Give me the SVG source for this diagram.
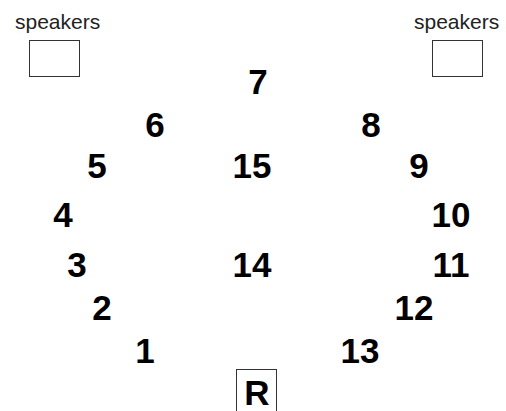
<svg xmlns="http://www.w3.org/2000/svg" width="506" height="411" viewBox="0 0 506 411">
<style>
.spk{font-family:"Liberation Sans",Arial,sans-serif;font-size:21px;fill:#222}
.box{fill:#fff;stroke:#333;stroke-width:1}
.num{font-family:"Liberation Sans",Arial,sans-serif;font-size:35px;font-weight:bold;fill:#000}
</style>
<rect width="506" height="411" fill="#fff"/>
<g id="speakers-left">
<text class="spk" x="15" y="29">speakers</text>
<rect class="box" x="29.5" y="40.5" width="50" height="36"/>
</g>
<g id="speakers-right">
<text class="spk" x="414" y="29">speakers</text>
<rect class="box" x="432.5" y="40.5" width="50" height="36"/>
</g>
<g id="n7"><text class="num" x="258" y="94" text-anchor="middle">7</text></g>
<g id="n6"><text class="num" x="155" y="137" text-anchor="middle">6</text></g>
<g id="n8"><text class="num" x="371" y="137" text-anchor="middle">8</text></g>
<g id="n5"><text class="num" x="97" y="178" text-anchor="middle">5</text></g>
<g id="n15"><text class="num" x="252" y="178" text-anchor="middle">15</text></g>
<g id="n9"><text class="num" x="419" y="178" text-anchor="middle">9</text></g>
<g id="n4"><text class="num" x="63" y="227" text-anchor="middle">4</text></g>
<g id="n10"><text class="num" x="451" y="227" text-anchor="middle">10</text></g>
<g id="n3"><text class="num" x="77" y="277" text-anchor="middle">3</text></g>
<g id="n14"><text class="num" x="252" y="277" text-anchor="middle">14</text></g>
<g id="n11"><text class="num" x="451" y="277" text-anchor="middle">11</text></g>
<g id="n2"><text class="num" x="102" y="320" text-anchor="middle">2</text></g>
<g id="n12"><text class="num" x="414" y="320" text-anchor="middle">12</text></g>
<g id="n1"><text class="num" x="145" y="363" text-anchor="middle">1</text></g>
<g id="n13"><text class="num" x="360" y="363" text-anchor="middle">13</text></g>
<g id="R">
<rect class="box" x="236.5" y="369.5" width="40" height="45"/>
<text class="num" x="257" y="405" text-anchor="middle">R</text>
</g>
</svg>
